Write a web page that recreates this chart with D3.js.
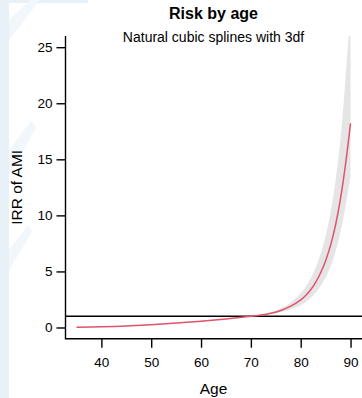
<!DOCTYPE html>
<html>
<head>
<meta charset="utf-8">
<script src="https://cdn.jsdelivr.net/npm/d3@7"></script>
<style>
  html, body { margin: 0; padding: 0; background: #fff; }
  svg { display: block; font-family: "Liberation Sans", Arial, sans-serif; }
</style>
</head>
<body>
<svg id="chart" width="362" height="398"></svg>
<script>
// Incidence rate ratio of AMI by age (natural cubic spline, 3 df), reference age 70
const ages  = [35, 40, 45, 50, 55, 60, 65, 70, 72, 74, 76, 78, 80, 81, 82, 83, 84, 85, 86, 87, 88, 89, 90];
const irr   = [0.03, 0.06, 0.13, 0.25, 0.39, 0.56, 0.76, 1.0, 1.105, 1.27, 1.52, 1.90, 2.46, 2.86, 3.37, 4.03, 4.88, 5.96, 7.35, 9.16, 11.53, 14.58, 18.2];
const upper = [0.04, 0.075, 0.15, 0.28, 0.42, 0.59, 0.79, 1.0, 1.14, 1.37, 1.72, 2.24, 3.05, 3.63, 4.38, 5.32, 6.59, 8.17, 10.3, 13.1, 16.9, 22.2, 28.7];
const lower = [0.02, 0.045, 0.11, 0.22, 0.36, 0.53, 0.73, 1.0, 1.07, 1.18, 1.35, 1.61, 1.98, 2.27, 2.63, 3.10, 3.70, 4.45, 5.44, 6.79, 8.54, 10.8, 13.5];
const xTicks = [40, 50, 60, 70, 80, 90];
const yTicks = [0, 5, 10, 15, 20, 25];
const refValue = 1;

const svg = d3.select("#chart");
const H = 398;
const plot = { left: 65.5, right: 362, top: 36, bottom: 338.7 };

// faint backdrop shapes at the left edge
const bg = svg.append("g").attr("fill", "#e8f1f7");
bg.append("rect").attr("x", 0).attr("y", 0).attr("width", 9).attr("height", H);
bg.append("rect").attr("x", 0).attr("y", 0).attr("width", 88).attr("height", 3);
bg.append("path").attr("fill", "#f1f7fa")
  .attr("d", "M9,20 L30,0 L40,0 L9,40 Z M9,150 L32,120 L36,128 L9,175 Z M9,250 L28,225 L32,232 L9,270 Z");

// R-style 4% axis expansion on x
const xExt = d3.extent(ages), xPad = (xExt[1] - xExt[0]) * 0.04;
const x = d3.scaleLinear().domain([xExt[0] - xPad, xExt[1] + xPad]).range([plot.left, 361.5]);
const y = d3.scaleLinear().domain([-1, 26]).range([plot.bottom, plot.top]);

svg.append("clipPath").attr("id", "plotClip")
  .append("rect").attr("x", plot.left).attr("y", plot.top)
  .attr("width", plot.right - plot.left).attr("height", plot.bottom - plot.top);

const rows = ages.map((a, i) => ({ age: a, irr: irr[i], lo: lower[i], hi: upper[i] }));
const g = svg.append("g").attr("clip-path", "url(#plotClip)");
const smooth = d3.curveCatmullRom.alpha(0.5);

// confidence band
g.append("path").datum(rows)
  .attr("fill", "#e5e5e5")
  .attr("d", d3.area().curve(smooth)
    .x(d => x(d.age)).y0(d => y(d.lo)).y1(d => y(d.hi)));

// reference line at IRR = 1
g.append("line")
  .attr("x1", plot.left).attr("x2", plot.right)
  .attr("y1", y(refValue)).attr("y2", y(refValue))
  .attr("stroke", "#000").attr("stroke-width", 1.4);

// fitted curve
g.append("path").datum(rows)
  .attr("fill", "none").attr("stroke", "#DF536B").attr("stroke-width", 1.5)
  .attr("d", d3.line().curve(smooth).x(d => x(d.age)).y(d => y(d.irr)));

// L-shaped frame
svg.append("path")
  .attr("d", `M${plot.left},${plot.top} V${plot.bottom} H${plot.right}`)
  .attr("fill", "none").attr("stroke", "#000").attr("stroke-width", 1.4);

// axes
const yAxis = svg.append("g").attr("transform", `translate(${plot.left},0)`)
  .call(d3.axisLeft(y).tickValues(yTicks).tickSize(9).tickPadding(4));
const xAxis = svg.append("g").attr("transform", `translate(0,${plot.bottom})`)
  .call(d3.axisBottom(x).tickValues(xTicks).tickSize(9).tickPadding(10));
[yAxis, xAxis].forEach(ax => {
  ax.select(".domain").remove();
  ax.selectAll(".tick line").attr("stroke", "#000").attr("stroke-width", 1.4);
  ax.selectAll(".tick text").attr("fill", "#000")
    .style("font-size", "13.5px").style("font-family", "Liberation Sans, Arial, sans-serif");
});

// titles
svg.append("text").attr("x", 213.5).attr("y", 18.5).attr("text-anchor", "middle")
  .style("font-size", "16px").style("font-weight", "bold").text("Risk by age");
svg.append("text").attr("x", 213.5).attr("y", 41.7).attr("text-anchor", "middle")
  .style("font-size", "14px").text("Natural cubic splines with 3df");
svg.append("text").attr("x", 213.5).attr("y", 394).attr("text-anchor", "middle")
  .style("font-size", "15.5px").text("Age");
svg.append("text").attr("transform", `translate(21.5,${(plot.top + plot.bottom) / 2}) rotate(-90)`)
  .attr("text-anchor", "middle").style("font-size", "15.5px").text("IRR of AMI");
</script>
</body>
</html>
